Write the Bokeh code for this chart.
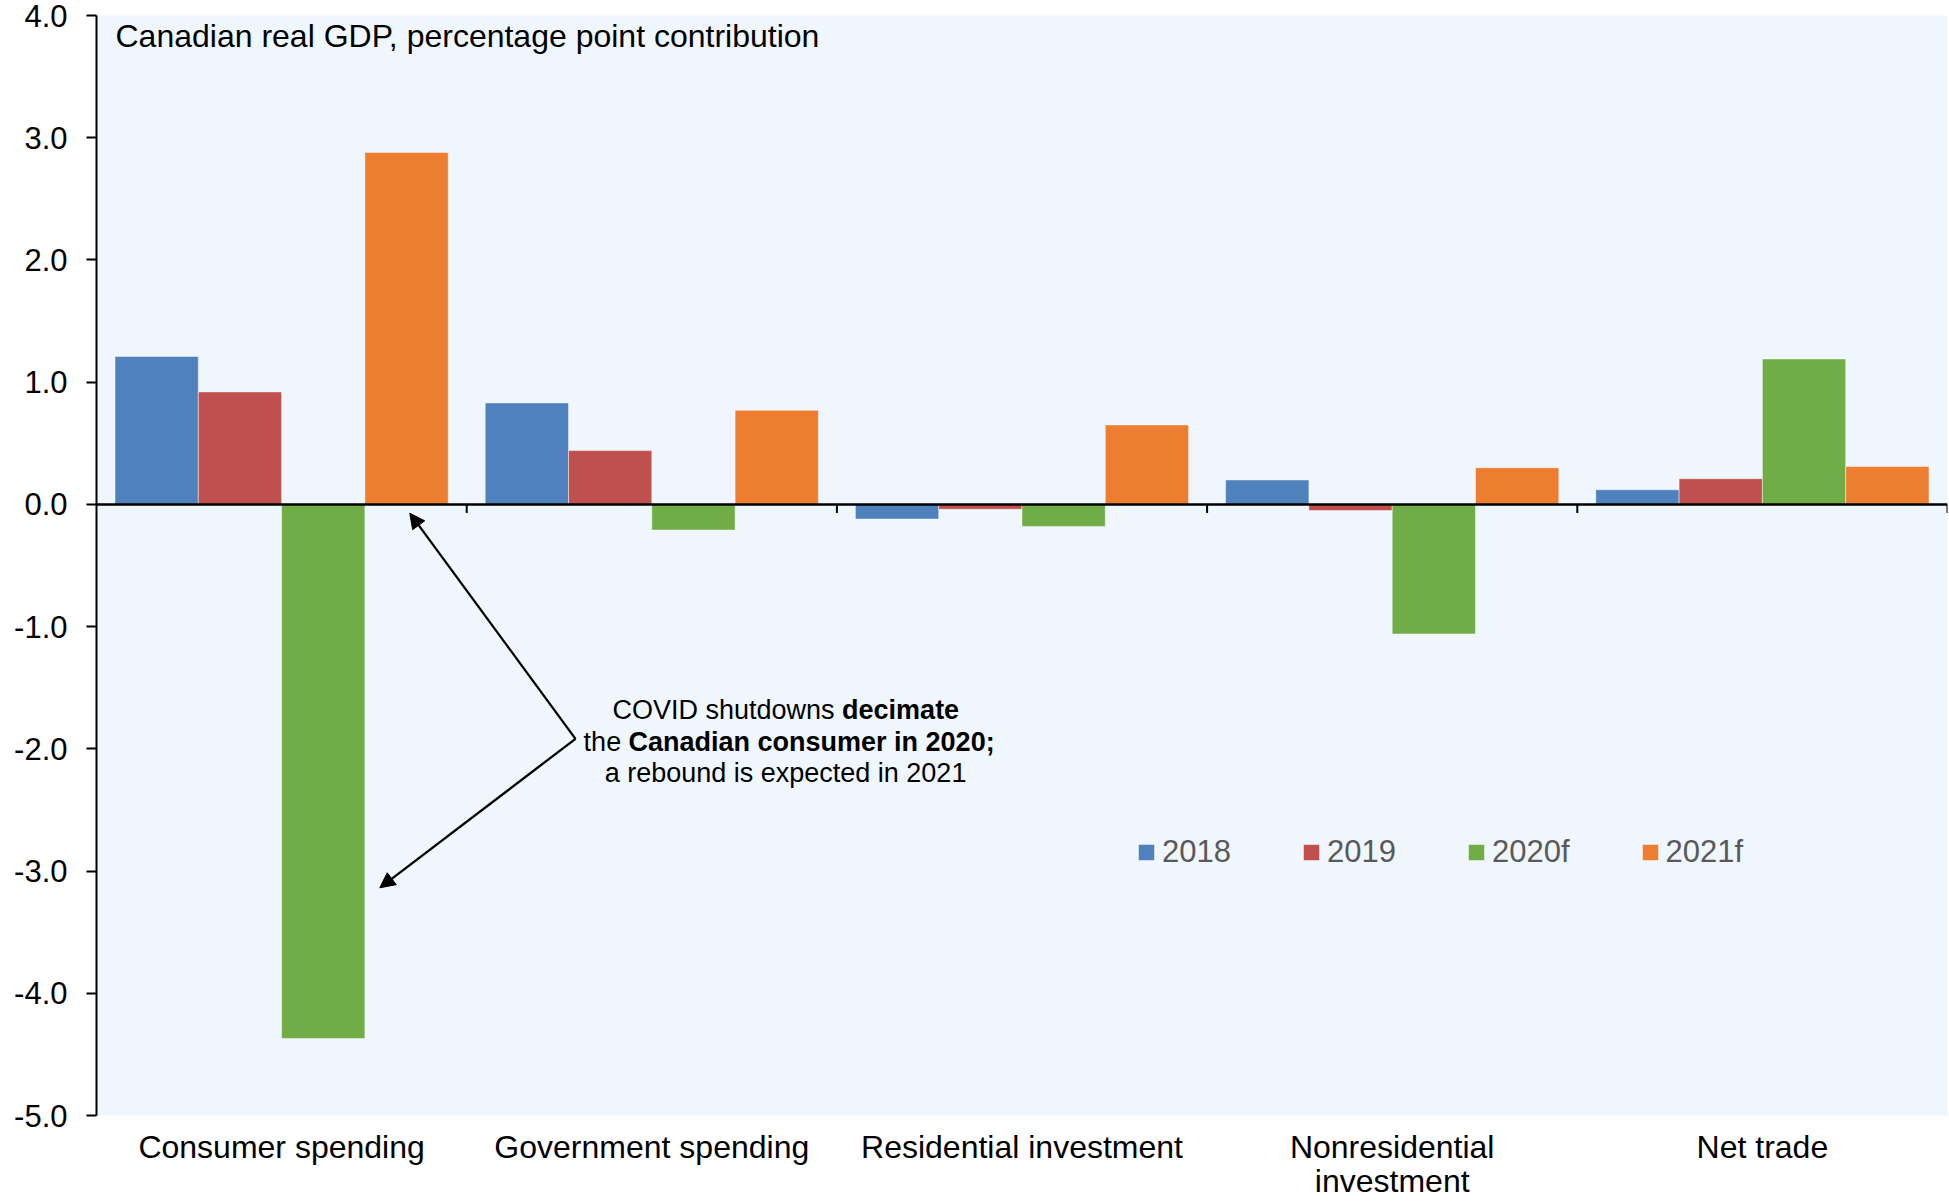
from bokeh.plotting import figure
from bokeh.models import (ColumnDataSource, FactorRange, Range1d, FixedTicker,
                          NumeralTickFormatter, Span, Label, Arrow, NormalHead,
                          Legend, LegendItem)
from bokeh.transform import dodge
from bokeh.embed import file_html
from bokeh.resources import INLINE

# Contributions to Canadian real GDP growth, percentage points
categories = ["Consumer spending", "Government spending", "Residential investment",
              "Nonresidential\ninvestment", "Net trade"]
years = ["2018", "2019", "2020f", "2021f"]
v2018 = [1.21, 0.83, -0.12, 0.20, 0.12]
v2019 = [0.92, 0.44, -0.04, -0.05, 0.21]
v2020f = [-4.37, -0.21, -0.18, -1.06, 1.19]
v2021f = [2.88, 0.77, 0.65, 0.30, 0.31]
y_ticks = [-5, -4, -3, -2, -1, 0, 1, 2, 3, 4]

colors = ["#4F81BD", "#C0504D", "#70AD47", "#ED7D31"]
FONT = "Liberation Sans"

source = ColumnDataSource(data=dict(cat=categories, y2018=v2018, y2019=v2019,
                                    y2020f=v2020f, y2021f=v2021f))

p = figure(width=1949, height=1203, output_backend="svg", toolbar_location=None,
           x_range=FactorRange(factors=categories, range_padding=0),
           y_range=Range1d(-5, 4),
           min_border_left=96, min_border_right=2, min_border_top=15,
           min_border_bottom=88)
p.background_fill_color = "#EFF6FE"
p.border_fill_color = "white"
p.outline_line_color = None
p.xgrid.visible = False
p.ygrid.visible = False

bar_w = 0.225
offsets = [-1.5 * bar_w, -0.5 * bar_w, 0.5 * bar_w, 1.5 * bar_w]
cols = ["y2018", "y2019", "y2020f", "y2021f"]
renderers = []
for col, off, c in zip(cols, offsets, colors):
    r = p.vbar(x=dodge("cat", off, range=p.x_range), top=col, bottom=0, width=bar_w,
               source=source, fill_color=c, line_color="white", line_alpha=0.45,
               line_width=1)
    renderers.append(r)

# zero line with category separators
p.add_layout(Span(location=0, dimension="width", line_color="black", line_width=2.5))
bounds = list(range(1, len(categories) + 1))
p.segment(x0=bounds, x1=bounds, y0=[0] * len(bounds), y1=[-0.07] * len(bounds),
          line_color="black", line_width=2)

# y axis
ya = p.yaxis[0]
ya.ticker = FixedTicker(ticks=y_ticks)
ya.formatter = NumeralTickFormatter(format="0.0")
ya.axis_line_color = "black"
ya.axis_line_width = 2
ya.major_tick_line_color = "black"
ya.major_tick_line_width = 2
ya.major_tick_out = 10
ya.major_tick_in = 0
ya.minor_tick_line_color = None
ya.major_label_standoff = 19
ya.major_label_text_font = FONT
ya.major_label_text_font_size = "31px"
ya.major_label_text_color = "black"

# x axis: category names only
xa = p.xaxis[0]
xa.axis_line_color = None
xa.major_tick_line_color = None
xa.minor_tick_line_color = None
xa.major_tick_out = 0
xa.major_tick_in = 0
xa.major_label_standoff = 13
xa.major_label_text_font = FONT
xa.major_label_text_font_size = "32px"
xa.major_label_text_color = "black"
xa.major_label_text_line_height = 0.97

# chart heading
p.add_layout(Label(x=0.0513, y=3.733, y_offset=12,
                   text="Canadian real GDP, percentage point contribution",
                   text_font=FONT, text_font_size="32px", text_color="black",
                   text_baseline="alphabetic"))

# callout
note_style = dict(text_font=FONT, text_font_size="27px", text_color="black",
                  text_baseline="alphabetic", y_offset=8)
p.add_layout(Label(x=1.3938, y=-1.746, text="COVID shutdowns ", **note_style))
p.add_layout(Label(x=2.0140, y=-1.746, text="decimate", text_font_style="bold", **note_style))
p.add_layout(Label(x=1.3158, y=-2.008, text="the ", **note_style))
p.add_layout(Label(x=1.4371, y=-2.008, text="Canadian consumer in 2020;",
                   text_font_style="bold", **note_style))
p.add_layout(Label(x=1.8612, y=-2.265, text="a rebound is expected in 2021",
                   text_align="center", **note_style))

vertex = (1.2939, -1.918)
for tip in [(0.8463, -0.072), (0.7653, -3.137)]:
    p.add_layout(Arrow(end=NormalHead(size=15, fill_color="black", line_color="black",
                                      line_width=1),
                       x_start=vertex[0], y_start=vertex[1], x_end=tip[0], y_end=tip[1],
                       line_color="black", line_width=2.3))

legend = Legend(items=[LegendItem(label=y, renderers=[r]) for y, r in zip(years, renderers)],
                orientation="horizontal", location=(1040, 245),
                glyph_width=20, glyph_height=20, label_standoff=6, spacing=70,
                padding=0, margin=0, border_line_color=None, background_fill_alpha=0,
                label_text_font=FONT, label_text_font_size="31px",
                label_text_color="#595959")
p.add_layout(legend)

open("out.html", "w").write(file_html(p, INLINE))
